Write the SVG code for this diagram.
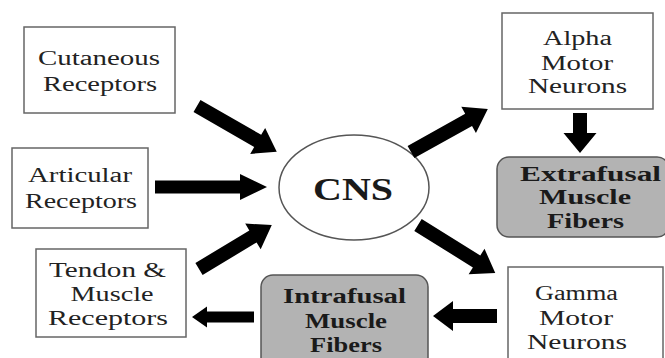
<svg xmlns="http://www.w3.org/2000/svg" width="665" height="358" viewBox="0 0 665 358">
<style>
.box{fill:#fff;stroke:#666;stroke-width:1.5}
.gbox{fill:#b3b3b3;stroke:#555;stroke-width:1.5}
.t{font-family:"Liberation Serif","DejaVu Serif","Times New Roman",serif;font-size:20px;fill:#222;text-anchor:middle}
.b{font-weight:bold;fill:#1a1a1a}
.arr{fill:#000}
</style>
<rect width="665" height="358" fill="#fff"/>
<g id="cutaneous">
<rect class="box" x="24" y="27" width="151" height="86"/>
<text class="t" x="99" y="65" textLength="122" lengthAdjust="spacingAndGlyphs">Cutaneous</text>
<text class="t" x="100" y="91" textLength="114" lengthAdjust="spacingAndGlyphs">Receptors</text>
</g>
<g id="articular">
<rect class="box" x="12" y="148" width="136" height="80"/>
<text class="t" x="80" y="182" textLength="104" lengthAdjust="spacingAndGlyphs">Articular</text>
<text class="t" x="81" y="208" textLength="112" lengthAdjust="spacingAndGlyphs">Receptors</text>
</g>
<g id="tendon">
<rect class="box" x="36" y="249" width="150" height="88"/>
<text class="t" x="107.5" y="277" textLength="117" lengthAdjust="spacingAndGlyphs">Tendon &amp;</text>
<text class="t" x="112" y="301" textLength="83" lengthAdjust="spacingAndGlyphs">Muscle</text>
<text class="t" x="108" y="325" textLength="120" lengthAdjust="spacingAndGlyphs">Receptors</text>
</g>
<g id="cns">
<ellipse cx="354" cy="187.5" rx="75" ry="52.5" fill="#fff" stroke="#555" stroke-width="1.5"/>
<text class="t b" x="353" y="200" style="font-size:32px" textLength="80" lengthAdjust="spacingAndGlyphs">CNS</text>
</g>
<g id="alpha">
<rect class="box" x="502" y="13" width="151" height="96"/>
<text class="t" x="577.5" y="45" textLength="69" lengthAdjust="spacingAndGlyphs">Alpha</text>
<text class="t" x="577" y="70" textLength="72" lengthAdjust="spacingAndGlyphs">Motor</text>
<text class="t" x="577.5" y="93" textLength="99" lengthAdjust="spacingAndGlyphs">Neurons</text>
</g>
<g id="extrafusal">
<rect class="gbox" x="497" y="157" width="172" height="80" rx="12"/>
<text class="t b" x="590.5" y="181" textLength="141" lengthAdjust="spacingAndGlyphs">Extrafusal</text>
<text class="t b" x="585" y="204" textLength="92" lengthAdjust="spacingAndGlyphs">Muscle</text>
<text class="t b" x="585.5" y="228" textLength="77" lengthAdjust="spacingAndGlyphs">Fibers</text>
</g>
<g id="intrafusal">
<rect class="gbox" x="261" y="275" width="167" height="95" rx="12"/>
<text class="t b" x="344.5" y="303" textLength="123" lengthAdjust="spacingAndGlyphs">Intrafusal</text>
<text class="t b" x="346" y="328" textLength="82" lengthAdjust="spacingAndGlyphs">Muscle</text>
<text class="t b" x="346" y="352" textLength="72" lengthAdjust="spacingAndGlyphs">Fibers</text>
</g>
<g id="gamma">
<rect class="box" x="508" y="267" width="155" height="100"/>
<text class="t" x="576.5" y="300" textLength="83" lengthAdjust="spacingAndGlyphs">Gamma</text>
<text class="t" x="576" y="325" textLength="74" lengthAdjust="spacingAndGlyphs">Motor</text>
<text class="t" x="577" y="349" textLength="100" lengthAdjust="spacingAndGlyphs">Neurons</text>
</g>
<g id="connectors" class="arr">
<path transform="translate(197,106) rotate(29.9)" d="M0,-7 H70 V-15 L92,0 L70,15 V7 H0 Z"/>
<path transform="translate(155,187)" d="M0,-6.5 H85 V-13 L112,0 L85,13 V6.5 H0 Z"/>
<path transform="translate(199,269) rotate(-31.1)" d="M0,-7 H63 V-15 L85,0 L63,15 V7 H0 Z"/>
<path transform="translate(411,152) rotate(-29.2)" d="M0,-7 H66 V-15 L88,0 L66,15 V7 H0 Z"/>
<path transform="translate(580,113) rotate(90)" d="M0,-7 H20 V-16.5 L40,0 L20,16.5 V7 H0 Z"/>
<path transform="translate(418,225) rotate(31.9)" d="M0,-7 H69 V-15 L91,0 L69,15 V7 H0 Z"/>
<path transform="translate(497,316) rotate(180)" d="M0,-7 H44 V-15 L64,0 L44,15 V7 H0 Z"/>
<path transform="translate(254,317) rotate(180)" d="M0,-5.5 H47 V-10.5 L62,0 L47,10.5 V5.5 H0 Z"/>
</g>
</svg>
